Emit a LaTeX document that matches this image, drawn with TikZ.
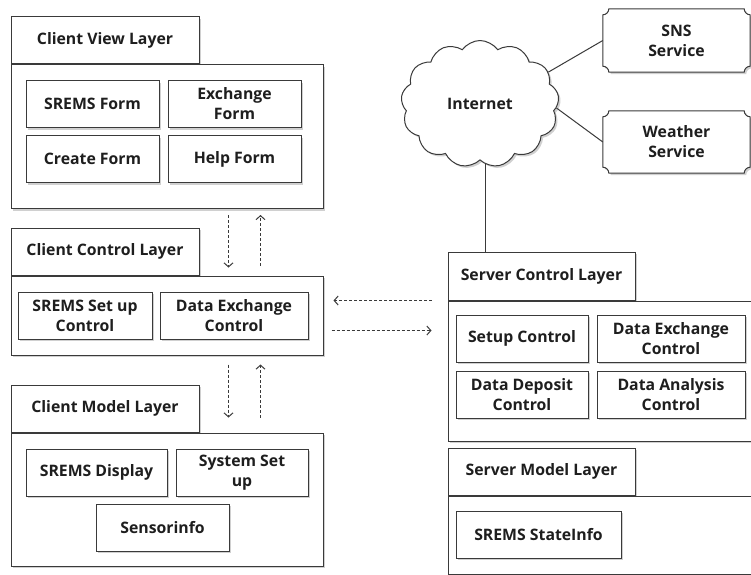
\documentclass[tikz,border=0pt]{standalone}
\usepackage{fontspec}
\setmainfont{Open Sans}
\usetikzlibrary{arrows.meta,positioning,calc,shapes.symbols,shadows}
\definecolor{LayerLine}{HTML}{3A3A3A}
\definecolor{LayerText}{HTML}{1E1E1E}
\newcommand\boxfont{\fontsize{15.8}{20}\selectfont\bfseries}
\pgfdeclarelayer{paper}
\pgfdeclarelayer{frames}
\pgfsetlayers{paper,frames,main}

% frame with hollowed corners round a service node
\newcommand\notchframe[1]{%
  \draw[box line, fill=white, boxshadow]
    ($(#1.north west)+(6,0)$) -- ($(#1.north east)+(-6,0)$)
    .. controls ($(#1.north east)+(-6,3.3)$) and ($(#1.north east)+(-3.3,6)$) .. ($(#1.north east)+(0,6)$)
    -- ($(#1.south east)+(0,-6)$)
    .. controls ($(#1.south east)+(-3.3,-6)$) and ($(#1.south east)+(-6,-3.3)$) .. ($(#1.south east)+(-6,0)$)
    -- ($(#1.south west)+(6,0)$)
    .. controls ($(#1.south west)+(6,-3.3)$) and ($(#1.south west)+(3.3,-6)$) .. ($(#1.south west)+(0,-6)$)
    -- ($(#1.north west)+(0,6)$)
    .. controls ($(#1.north west)+(3.3,6)$) and ($(#1.north west)+(6,3.3)$) .. cycle;}

\begin{document}
\begin{tikzpicture}[x=1pt,y=-1pt,
    every node/.style={font=\boxfont,text=LayerText},
    box line/.style={draw=LayerLine,line width=1pt},
    boxshadow/.style={drop shadow={shadow xshift=2pt,shadow yshift=-2pt,opacity=.3,fill=black!60}},
    tab/.style={box line,fill=white,boxshadow,minimum width=188pt,minimum height=47pt,inner sep=0pt},
    layer/.style={box line,fill=white,boxshadow,minimum width=312pt,anchor=north west,inner sep=0pt},
    part/.style={box line,fill=white,boxshadow,minimum height=47pt,align=center,inner sep=0pt},
    service/.style={minimum width=147pt,minimum height=63pt,align=center,inner sep=0pt},
    flow/.style={draw=LayerLine,line width=1pt,dash pattern=on 3pt off 2pt,-{Straight Barb[length=4pt,width=9pt]}},
    link/.style={draw=LayerLine,line width=1pt}]
  \begin{pgfonlayer}{paper}
    \fill[white] (0,0) rectangle (751,574);
  \end{pgfonlayer}
  \useasboundingbox (0,0) rectangle (751,574);
  \clip (0,0) rectangle (751,574);

  % client view layer
  \node[tab] (cvtab) at (105,40) {Client View Layer};
  \node[layer,minimum height=144pt] (cvbody) at (cvtab.south west) {};
  \node[part,minimum width=133pt,anchor=north west] (sform) at ($(cvbody.north west)+(15,16)$) {SREMS Form};
  \node[part,minimum width=133pt,right=8pt of sform] (xform) {Exchange\\Form};
  \node[part,minimum width=133pt,below=7pt of sform] (cform) {Create Form};
  \node[part,minimum width=133pt,below=7pt of xform] (hform) {Help Form};

  % client control layer
  \node[tab] (cctab) at (105,251.5) {Client Control Layer};
  \node[layer,minimum height=79pt] (ccbody) at (cctab.south west) {};
  \node[part,minimum width=134pt,anchor=north west] (setupc) at ($(ccbody.north west)+(7,16)$) {SREMS Set up\\Control};
  \node[part,minimum width=148pt,right=7pt of setupc] (xchgc) {Data Exchange\\Control};

  % client model layer
  \node[tab] (cmtab) at (105,408.5) {Client Model Layer};
  \node[layer,minimum height=133pt] (cmbody) at (cmtab.south west) {};
  \node[part,minimum width=141pt,anchor=north west] (disp) at ($(cmbody.north west)+(15,16)$) {SREMS Display};
  \node[part,minimum width=132pt,right=8pt of disp] (sysset) {System Set\\up};
  \node[part,minimum width=133pt,anchor=north west] (sensor) at ($(cmbody.north west)+(85,71)$) {Sensorinfo};

  % server control layer
  \node[tab,minimum width=187pt,minimum height=48pt] (sctab) at (541.5,276) {Server Control Layer};
  \node[layer,minimum height=140pt] (scbody) at (sctab.south west) {};
  \node[part,minimum width=132pt,anchor=north west] (setup) at ($(scbody.north west)+(8,14)$) {Setup Control};
  \node[part,minimum width=148pt,right=8pt of setup] (sxchg) {Data Exchange\\Control};
  \node[part,minimum width=132pt,below=8pt of setup] (deposit) {Data Deposit\\Control};
  \node[part,minimum width=148pt,below=8pt of sxchg] (analysis) {Data Analysis\\Control};

  % server model layer
  \node[tab,minimum width=187pt] (smtab) at (541.5,471.5) {Server Model Layer};
  \node[layer,minimum height=78pt] (smbody) at (smtab.south west) {};
  \node[part,minimum width=165pt,anchor=north west] (state) at ($(smbody.north west)+(8,15)$) {SREMS StateInfo};

  % internet and outside services
  \node[cloud,cloud puffs=13,cloud puff arc=110,aspect=1.25,box line,fill=white,boxshadow,
    minimum width=158pt,minimum height=127pt,inner sep=0pt] (inet) at (480,104) {Internet};
  \node[service] (sns) at (676.5,40.5) {SNS\\Service};
  \node[service,minimum height=62pt] (wthr) at (676.5,142) {Weather\\Service};
  \begin{pgfonlayer}{frames}
    \notchframe{sns}
    \notchframe{wthr}
  \end{pgfonlayer}
  \draw[link] (inet.25) -- (sns.west);
  \draw[link] (inet.-3) -- (wthr.west);
  \draw[link] (inet.-85) -- (inet.-85 |- sctab.north);

  % requests and replies between the layers
  \coordinate (viewdn) at ($(cvbody.south west)+(218,0)$);
  \coordinate (viewup) at ($(cvbody.south west)+(250,0)$);
  \draw[flow,shorten <=6pt,shorten >=8pt] (viewdn) -- (viewdn |- ccbody.north);
  \draw[flow,shorten <=10pt,shorten >=6pt] (viewup |- ccbody.north) -- (viewup);
  \coordinate (ctrldn) at ($(ccbody.south west)+(218,0)$);
  \coordinate (ctrlup) at ($(ccbody.south west)+(250,0)$);
  \draw[flow,shorten <=9pt,shorten >=15pt] (ctrldn) -- (ctrldn |- cmbody.north);
  \draw[flow,shorten <=15pt,shorten >=9pt] (ctrlup |- cmbody.north) -- (ctrlup);
  \coordinate (srvin) at ($(scbody.west |- ccbody.east)+(0,-15)$);
  \coordinate (srvout) at ($(scbody.west |- ccbody.east)+(0,15)$);
  \draw[flow,shorten <=16pt,shorten >=10pt] (srvin) -- (srvin -| ccbody.east);
  \draw[flow,shorten <=8pt,shorten >=16pt] (srvout -| ccbody.east) -- (srvout);
\end{tikzpicture}
\end{document}
